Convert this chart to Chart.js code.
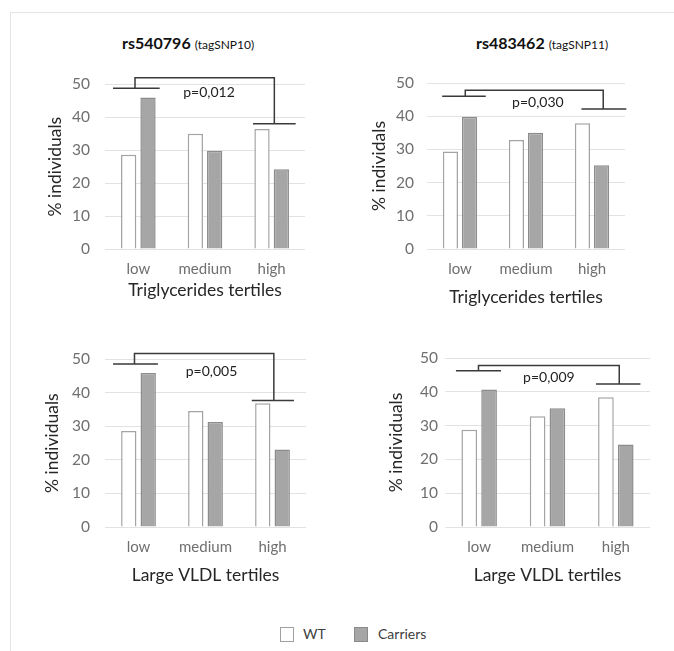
<!DOCTYPE html>
<html>
<head>
<meta charset="utf-8">
<script src="https://cdn.jsdelivr.net/npm/chart.js@4.4.1/dist/chart.umd.min.js"></script>
<style>
    body { margin: 0; background: #fff; font-family: Lato, sans-serif; }
    #page { position: relative; width: 674px; height: 651px; overflow: hidden; }
    #frame { position: absolute; left: 10px; top: 12px; width: 700px; height: 700px;
             border-left: 1px solid #e4e4e4; border-top: 1px solid #e4e4e4; }
    .box { position: absolute; }
    .title { position: absolute; white-space: nowrap; color: #111; }
    .title b { font-size: 16px; }
    .title span { font-size: 12px; }
    .leg { position: absolute; font-size: 14px; color: #404040; }
    .sw { position: absolute; width: 12px; height: 13px; }
</style>
</head>
<body>
<div id="page">
    <div id="frame"></div>
    <div class="title" style="left:122px; top:33px;"><b>rs540796</b> <span>(tagSNP10)</span></div>
    <div class="title" style="left:476px; top:33px;"><b>rs483462</b> <span>(tagSNP11)</span></div>

    <div class="box" style="left:20px; top:60px;"><canvas id="c1" width="300" height="249"></canvas></div>
    <div class="box" style="left:340px; top:60px;"><canvas id="c2" width="300" height="256"></canvas></div>
    <div class="box" style="left:20px; top:335px;"><canvas id="c3" width="300" height="260"></canvas></div>
    <div class="box" style="left:355px; top:335px;"><canvas id="c4" width="300" height="260"></canvas></div>

    <div class="sw" style="left:280px; top:627px; background:#fff; border:1px solid #a0a0a0;"></div>
    <div class="leg" style="left:303px; top:625px;">WT</div>
    <div class="sw" style="left:354px; top:627px; background:#a6a6a6; border:1px solid #8a8a8a;"></div>
    <div class="leg" style="left:378px; top:625px;">Carriers</div>
</div>

<script>
const CATEGORIES = ['low', 'medium', 'high'];
const SERIES_NAMES = ['WT', 'Carriers'];

// % individuals per tertile
const TG_SNP10_WT = [28.6, 35.0, 36.4];
const TG_SNP10_CARRIERS = [46.0, 29.8, 24.2];
const TG_SNP11_WT = [29.4, 32.8, 37.9];
const TG_SNP11_CARRIERS = [39.8, 35.0, 25.2];
const VLDL_SNP10_WT = [28.6, 34.6, 36.9];
const VLDL_SNP10_CARRIERS = [45.9, 31.3, 23.1];
const VLDL_SNP11_WT = [28.8, 32.8, 38.4];
const VLDL_SNP11_CARRIERS = [40.7, 35.1, 24.4];

const Y_TICKS = [0, 10, 20, 30, 40, 50];

// significance brackets: [left level, top level, right level]
const BRACKET_TG_SNP10 = [48.8, 52.0, 38.0];
const BRACKET_TG_SNP11 = [46.0, 47.8, 42.2];
const BRACKET_VLDL_SNP10 = [48.6, 51.7, 37.7];
const BRACKET_VLDL_SNP11 = [46.2, 47.8, 42.3];
const P_VALUES = ['p=0,012', 'p=0,030', 'p=0,005', 'p=0,009'];

const FONT = 'Lato, sans-serif';
const WT_FILL = '#ffffff';
const WT_BORDER = '#a3a3a3';
const CARRIER_FILL = '#a6a6a6';
const CARRIER_BORDER = '#8c8c8c';

// bracket plugin: draws the line set from data levels through the scales
const bracketPlugin = {
    id: 'bracket',
    afterDatasetsDraw(chart, args, opts) {
        var x = chart.scales.x;
        var y = chart.scales.y;
        var ctx = chart.ctx;
        var cw = x.getPixelForValue(1) - x.getPixelForValue(0);
        function px(idx) { return x.getPixelForValue(0) + idx * cw; }
        var lv = opts.levels;
        var g = opts.geom;

        ctx.save();
        ctx.strokeStyle = '#3a3a3a';
        ctx.lineWidth = 1.5;
        ctx.beginPath();
        ctx.moveTo(px(g[0]), y.getPixelForValue(lv[0]));
        ctx.lineTo(px(g[1]), y.getPixelForValue(lv[0]));
        ctx.moveTo(px(g[2]), y.getPixelForValue(lv[0]));
        ctx.lineTo(px(g[2]), y.getPixelForValue(lv[1]));
        ctx.lineTo(px(g[5]), y.getPixelForValue(lv[1]));
        ctx.lineTo(px(g[5]), y.getPixelForValue(lv[2]));
        ctx.moveTo(px(g[3]), y.getPixelForValue(lv[2]));
        ctx.lineTo(px(g[4]), y.getPixelForValue(lv[2]));
        ctx.stroke();

        ctx.fillStyle = '#222';
        ctx.font = '14px ' + FONT;
        ctx.textAlign = 'center';
        ctx.textBaseline = 'middle';
        ctx.fillText(opts.text, px(opts.textPos[0]), y.getPixelForValue(opts.textPos[1]));
        ctx.restore();
    }
};

function drawPanel(id, wt, carriers, xTitle, yTitle, bracket, p) {
    var ctx = document.getElementById(id).getContext('2d');
    return new Chart(ctx, {
        type: 'bar',
        data: {
            labels: CATEGORIES,
            datasets: [{
                label: SERIES_NAMES[0],
                data: wt,
                backgroundColor: WT_FILL,
                borderColor: WT_BORDER,
                borderWidth: 1.5
            }, {
                label: SERIES_NAMES[1],
                data: carriers,
                backgroundColor: CARRIER_FILL,
                borderColor: CARRIER_BORDER,
                borderWidth: 1.5
            }]
        },
        options: {
            responsive: false,
            animation: false,
            categoryPercentage: 0.58,
            barPercentage: 0.79,
            layout: { padding: p.pad },
            plugins: {
                legend: { display: false },
                tooltip: { enabled: false },
                bracket: { levels: bracket, geom: p.geom, text: p.text, textPos: p.textPos }
            },
            scales: {
                x: {
                    grid: { display: false, drawTicks: false },
                    border: { display: false },
                    ticks: { color: '#6f6f6f', font: { family: FONT, size: 15 }, padding: p.xTickPad },
                    title: { display: true, text: xTitle, color: '#262626',
                             font: { family: FONT, size: 17.5 }, padding: { top: 0, bottom: p.xTitlePad } },
                    afterFit(scale) { scale.height = p.xH; }
                },
                y: {
                    min: 0,
                    max: 50,
                    afterBuildTicks(scale) { scale.ticks = Y_TICKS.map(v => ({ value: v })); },
                    grid: { color: '#e2e2e2', lineWidth: 1, drawTicks: false },
                    border: { display: false },
                    ticks: { color: '#6f6f6f', font: { family: FONT, size: 15.5 }, padding: p.yTickPad },
                    title: { display: true, text: yTitle, color: '#262626',
                             font: { family: FONT, size: 17.5 }, padding: { top: p.yTitlePad, bottom: 0 } },
                    afterFit(scale) { scale.width = p.yW; }
                }
            }
        },
        plugins: [bracketPlugin]
    });
}

drawPanel('c1', TG_SNP10_WT, TG_SNP10_CARRIERS, 'Triglycerides tertiles', '% individuals', BRACKET_TG_SNP10, {
    pad: { left: 0, right: 15, top: 23, bottom: 0 }, yW: 85, xH: 60,
    xTickPad: 11, xTitlePad: 8, yTickPad: 15, yTitlePad: 24.5,
    geom: [-0.38, 0.32, -0.05, 1.72, 2.36, 2.04], text: P_VALUES[0], textPos: [1.06, 47.4]
});
drawPanel('c2', TG_SNP11_WT, TG_SNP11_CARRIERS, 'Triglycerides tertiles', '% individals', BRACKET_TG_SNP11, {
    pad: { left: 20, right: 15, top: 23, bottom: 0 }, yW: 67, xH: 67,
    xTickPad: 11, xTitlePad: 8, yTickPad: 13, yTitlePad: 9,
    geom: [-0.27, 0.39, 0.08, 1.84, 2.52, 2.17], text: P_VALUES[1], textPos: [1.18, 44.2]
});
drawPanel('c3', VLDL_SNP10_WT, VLDL_SNP10_CARRIERS, 'Large VLDL tertiles', '% individuals', BRACKET_VLDL_SNP10, {
    pad: { left: 0, right: 14, top: 23, bottom: 0 }, yW: 85, xH: 68,
    xTickPad: 11, xTitlePad: 9, yTickPad: 15, yTitlePad: 22,
    geom: [-0.38, 0.29, -0.06, 1.69, 2.32, 2.02], text: P_VALUES[2], textPos: [1.09, 46.4]
});
drawPanel('c4', VLDL_SNP11_WT, VLDL_SNP11_CARRIERS, 'Large VLDL tertiles', '% individuals', BRACKET_VLDL_SNP11, {
    pad: { left: 20, right: 5, top: 23, bottom: 0 }, yW: 70, xH: 68,
    xTickPad: 11, xTitlePad: 9, yTickPad: 7, yTitlePad: 11,
    geom: [-0.34, 0.32, -0.01, 1.71, 2.36, 2.05], text: P_VALUES[3], textPos: [1.02, 44.1]
});
</script>
</body>
</html>
